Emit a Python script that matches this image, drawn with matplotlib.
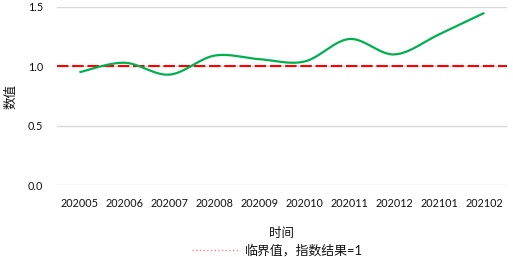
import numpy as np
import matplotlib.pyplot as plt
from matplotlib.lines import Line2D

plt.rcParams['font.family'] = ['Lato', 'Noto Sans CJK SC', 'DejaVu Sans']

months = ["202005", "202006", "202007", "202008", "202009",
          "202010", "202011", "202012", "202101", "202102"]
values = [0.95, 1.03, 0.93, 1.09, 1.06, 1.04, 1.23, 1.10, 1.27, 1.45]
threshold = 1.0
y_ticks = [0.0, 0.5, 1.0, 1.5]


def smooth_curve(x, y, n=30):
    # Excel 风格的平滑线 (Catmull-Rom)
    x = np.asarray(x, float)
    y = np.asarray(y, float)
    px = np.concatenate([[x[0]], x, [x[-1]]])
    py = np.concatenate([[y[0]], y, [y[-1]]])
    xs, ys = [], []
    t = np.linspace(0, 1, n)
    for i in range(1, len(px) - 2):
        for arr, out in ((px, xs), (py, ys)):
            p0, p1, p2, p3 = arr[i - 1], arr[i], arr[i + 1], arr[i + 2]
            out.append(0.5 * (2 * p1 + (-p0 + p2) * t
                              + (2 * p0 - 5 * p1 + 4 * p2 - p3) * t ** 2
                              + (-p0 + 3 * p1 - 3 * p2 + p3) * t ** 3))
    return np.concatenate(xs), np.concatenate(ys)


fig = plt.figure(figsize=(5.13, 2.57), dpi=100)
ax = fig.add_axes([0.111, 0.280, 0.877, 0.693])

pos = np.arange(len(months))
sx, sy = smooth_curve(pos, values)
ax.plot(sx, sy, color="#00B050", lw=1.6, solid_capstyle="butt", zorder=3)
ax.axhline(threshold, color="#FF0000", lw=1.5, dashes=(5.5, 1.8), zorder=2)

ax.set_xlim(-0.5, len(months) - 0.5)
ax.set_ylim(0, 1.5)
ax.set_yticks(y_ticks)
ax.set_yticklabels([f"{v:.1f}" for v in y_ticks])
ax.set_xticks(pos)
ax.set_xticklabels(months)
ax.tick_params(length=0, labelsize=7.8, colors="#111111")
ax.tick_params(axis="x", pad=9)
ax.tick_params(axis="y", pad=10)
ax.grid(axis="y", color="#d9d9d9", lw=1)
ax.set_axisbelow(True)
for s in ax.spines.values():
    s.set_visible(False)

ax.set_xlabel("时间", fontsize=9, color="#111111")
ax.xaxis.set_label_coords(0.5, -0.235)
ax.set_ylabel("数值", fontsize=9, color="#111111")
ax.yaxis.set_label_coords(-0.09, 0.495)

handle = Line2D([], [], color="#FF8080", lw=1, linestyle=":")
fig.legend([handle], ["临界值，指数结果=1"], loc="lower center",
           bbox_to_anchor=(0.54, -0.045), frameon=False, fontsize=9.3,
           handlelength=3.6, handletextpad=0.5, labelcolor="#111111")

fig.savefig("out.png", dpi=100)
